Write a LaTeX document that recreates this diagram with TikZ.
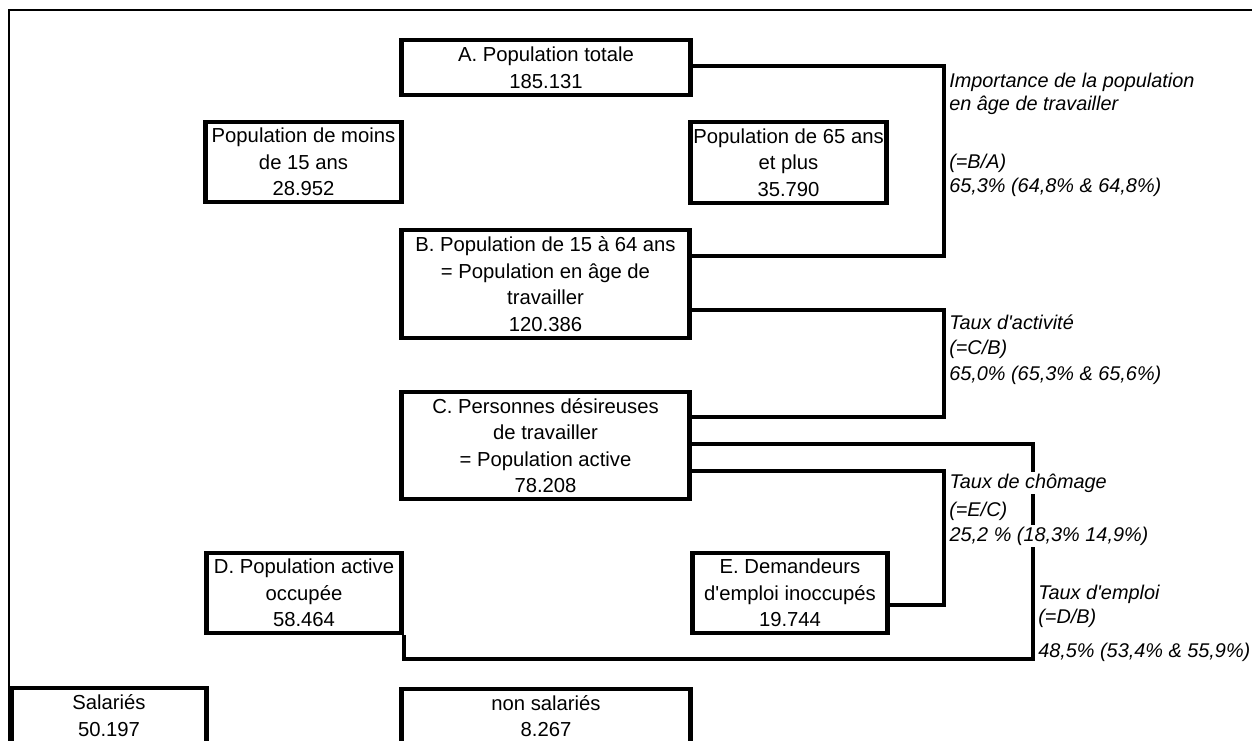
\documentclass[tikz,border=0pt]{standalone}
\usepackage{fontspec}
\setmainfont{Liberation Sans}
\newcommand{\apo}{\textquotesingle}
\begin{document}
\begin{tikzpicture}[x=0.75pt,y=-0.75pt,
  box/.style={draw, line width=3.7pt, inner sep=0pt, align=center, font=\fontsize{15.2}{19.9}\selectfont},
  bigbox/.style={box, minimum width=216.5pt},
  smallbox/.style={box, minimum width=146.5pt},
  conn/.style={line width=2.5pt},
  frame/.style={line width=1.8pt},
  lab/.style={anchor=west, inner sep=0pt, font=\fontsize{14.9}{18}\selectfont\itshape},
  labw/.style={lab, fill=white, inner xsep=1pt, inner ysep=1.5pt},
]
\path[use as bounding box, clip] (0,0) rectangle (1252,740);
\fill[white] (0,0) rectangle (1252,740);
% outer frame
\draw[frame] (9,770) -- (9,10) -- (1270,10);

% boxes
\node[bigbox, minimum height=41.25pt] (A) at (546,67.5) {A. Population totale\\185.131};
\node[smallbox, minimum height=60pt] (M) at (303.5,162) {Population de moins\\de 15 ans\\28.952};
\node[smallbox, minimum height=60.75pt] (P) at (788.5,162.5) {Population de 65 ans\\et plus\\35.790};
\node[bigbox, minimum height=81pt] (B) at (545.5,284) {B. Population de 15 à 64 ans\\= Population en âge de\\travailler\\120.386};
\node[bigbox, minimum height=80.25pt] (C) at (545.5,445.5) {C. Personnes désireuses\\de travailler\\= Population active\\78.208};
\node[smallbox, minimum height=60pt] (D) at (304,593) {D. Population active\\occupée\\58.464};
\node[smallbox, minimum height=60pt] (E) at (790,593) {E. Demandeurs\\d\apo emploi inoccupés\\19.744};
\node[smallbox, minimum height=41.25pt] (S) at (109,715.5) {Salariés\\50.197};
\node[bigbox, minimum height=40.5pt] (N) at (546,716) {non salariés\\8.267};

% reference coordinates
\coordinate (r1) at (944,0);
\coordinate (r2) at (1033,0);
\coordinate (hA) at (0,66);
\coordinate (hB1) at (0,256);
\coordinate (hB2) at (0,310);
\coordinate (hC1) at (0,417);
\coordinate (hC2) at (0,444);
\coordinate (hC3) at (0,471);
\coordinate (hE) at (0,605);
\coordinate (hD) at (0,659);

% connectors
\draw[conn] (A.east |- hA) -- (r1 |- hA) -- (r1 |- hB1) -- (B.east |- hB1);
\draw[conn] (B.east |- hB2) -- (r1 |- hB2) -- (r1 |- hC1) -- (C.east |- hC1);
\draw[conn] (C.east |- hC2) -- (r2 |- hC2) -- (r2 |- hD) -- (D.south east |- hD) -- (D.south east);
\draw[conn] (C.east |- hC3) -- (r1 |- hC3) -- (r1 |- hE) -- (E.east |- hE);

% labels
\node[lab] (l1a) at (949,82) {Importance de la population};
\node[lab] (l1b) at (949,105) {en âge de travailler};
\node[lab] (l1c) at (949,163) {(=B/A)};
\node[lab] (l1d) at (949,187) {65,3\% (64,8\% \& 64,8\%)};

\node[lab] (l2a) at (949,322) {Taux d\apo activité};
\node[lab] (l2b) at (949,349) {(=C/B)};
\node[lab] (l2c) at (949,375) {65,0\% (65,3\% \& 65,6\%)};

\node[labw] (l3a) at (948,483) {Taux de chômage};
\node[lab] (l3b) at (949,511) {(=E/C)};
\node[labw] (l3c) at (948,536) {25,2 \% (18,3\% 14,9\%)};

\node[lab] (l4a) at (1038,594) {Taux d\apo emploi};
\node[lab] (l4b) at (1038,618) {(=D/B)};
\node[lab] (l4c) at (1038,652) {48,5\% (53,4\% \& 55,9\%)};
\end{tikzpicture}
\end{document}
